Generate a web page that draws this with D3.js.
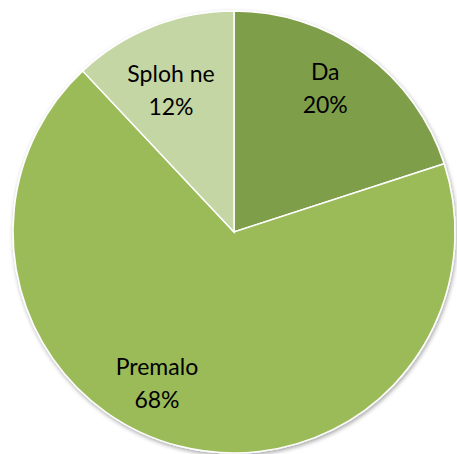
<!DOCTYPE html>
<html>
<head>
<meta charset="utf-8">
<script src="https://cdn.jsdelivr.net/npm/d3@7"></script>
<style>
body { margin: 0; background: #fff; }
</style>
</head>
<body>
<svg width="457" height="454"></svg>
<script>
var categories = ["Da", "Premalo", "Sploh ne"];
var values = [20, 68, 12];
var colors = ["#7f9e4a", "#9bbb59", "#c4d6a3"];

var svg = d3.select("svg");
var cx = 234, cy = 232, radius = 221;

// label placement tweaks (Excel best fit): angle nudge in degrees, radius
var labelNudge = [-2.2, 11.4, -3.6];
var labelRadius = [164, 177, 148];

var defs = svg.append("defs");
var f = defs.append("filter").attr("id", "shadow").attr("x", "-10%").attr("y", "-10%").attr("width", "120%").attr("height", "120%");
f.append("feDropShadow").attr("dx", 1).attr("dy", 2).attr("stdDeviation", 2).attr("flood-color", "#000").attr("flood-opacity", 0.35);

var pie = d3.pie().sort(null).value(function(d) { return d; });
var arcs = pie(values);

var arc = d3.arc().innerRadius(0).outerRadius(radius);

var g = svg.append("g").attr("transform", "translate(" + cx + "," + cy + ")");

g.append("g").attr("filter", "url(#shadow)")
  .selectAll("path")
  .data(arcs)
  .enter()
  .append("path")
  .attr("d", arc)
  .attr("fill", function(d, i) { return colors[i]; })
  .attr("stroke", "#fff")
  .attr("stroke-width", 1.5);

function labelPos(d, i) {
  var a = (d.startAngle + d.endAngle) / 2 + labelNudge[i] * Math.PI / 180;
  var r = labelRadius[i];
  return [r * Math.sin(a), -r * Math.cos(a)];
}

var labels = g.selectAll("text.lbl")
  .data(arcs)
  .enter()
  .append("text")
  .attr("class", "lbl")
  .attr("transform", function(d, i) { return "translate(" + labelPos(d, i) + ")"; })
  .attr("text-anchor", "middle")
  .style("font-family", "Lato, 'Open Sans', sans-serif")
  .style("font-size", "23px")
  .attr("fill", "#000");

labels.append("tspan").attr("x", 0).attr("dy", "-16px").text(function(d, i) { return categories[i]; });
labels.append("tspan").attr("x", 0).attr("dy", "33px").text(function(d) { return d.value + "%"; });
</script>
</body>
</html>
